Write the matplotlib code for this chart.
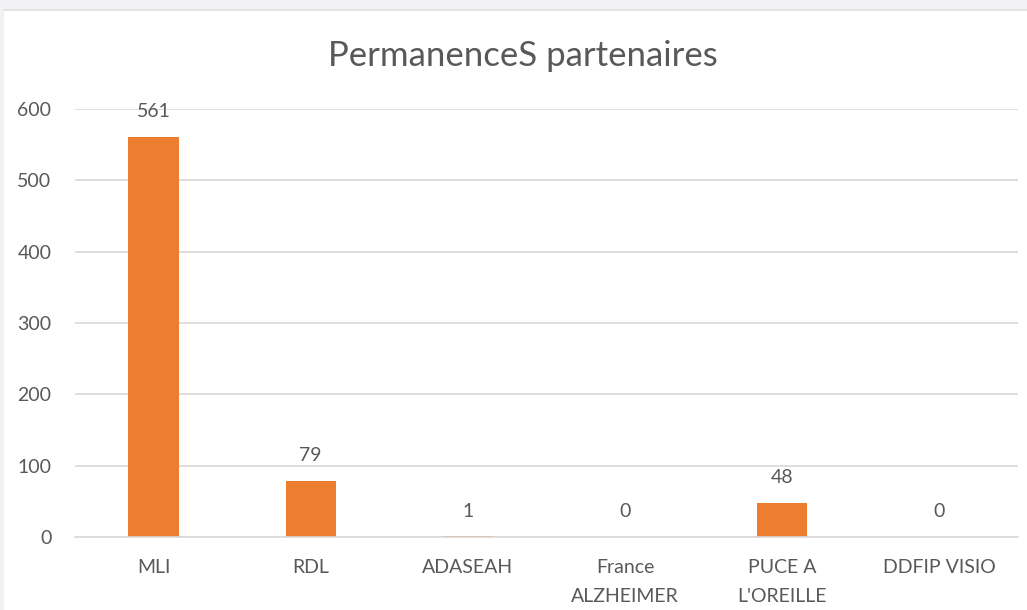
import matplotlib.pyplot as plt
from matplotlib.patches import Rectangle
from matplotlib.lines import Line2D

plt.rcParams.update({'font.family': ['Lato', 'DejaVu Sans']})

categories = ['MLI', 'RDL', 'ADASEAH', 'France\nALZHEIMER', 'PUCE A\nL\'OREILLE', 'DDFIP VISIO']
values = [561, 79, 1, 0, 48, 0]
yticks = [0, 100, 200, 300, 400, 500, 600]
title = 'PermanenceS partenaires'

text_color = '#595959'
bar_color = '#ED7D31'
grid_color = '#d9d9d9'

fig = plt.figure(figsize=(10.27, 6.10), dpi=100)
fig.patch.set_facecolor('white')

# light gray window frame at top and left
fig.patches.append(Rectangle((0, 1 - 9 / 610), 1, 9 / 610, transform=fig.transFigure,
                             facecolor='#f2f1f4', edgecolor='none', zorder=0))
fig.patches.append(Rectangle((0, 0), 4 / 1027, 1, transform=fig.transFigure,
                             facecolor='#f2f1f4', edgecolor='none', zorder=0))
fig.lines.append(Line2D([4 / 1027, 1], [1 - 10 / 610, 1 - 10 / 610], transform=fig.transFigure,
                        color='#dedede', lw=1.2))

ax = fig.add_axes([75 / 1027, 1 - 537 / 610, (1018 - 75) / 1027, (537 - 109) / 610])
x = range(len(categories))
bars = ax.bar(x, values, width=0.32, color=bar_color, zorder=3)

ax.set_xlim(-0.5, len(categories) - 0.5)
ax.set_ylim(0, 600)
ax.set_yticks(yticks)
ax.set_xticks(list(x))
ax.set_xticklabels(categories, linespacing=1.85)
ax.tick_params(axis='both', length=0, colors=text_color, labelsize=14)
ax.tick_params(axis='y', pad=17)
ax.tick_params(axis='x', pad=16)

ax.grid(axis='y', color=grid_color, lw=1.2, zorder=0)
for side in ['top', 'right', 'left']:
    ax.spines[side].set_visible(False)
ax.spines['bottom'].set_color(grid_color)
ax.spines['bottom'].set_linewidth(1.2)
ax.spines['bottom'].set_zorder(4)

for xi, v in zip(x, values):
    ax.annotate(str(v), (xi, v), xytext=(0, 12), textcoords='offset points',
                ha='center', va='bottom', color=text_color, fontsize=14)

fig.text(523 / 1027, 1 - 56 / 610, title, ha='center', va='center',
         fontsize=25, color=text_color)

fig.savefig('out.png', dpi=100)
